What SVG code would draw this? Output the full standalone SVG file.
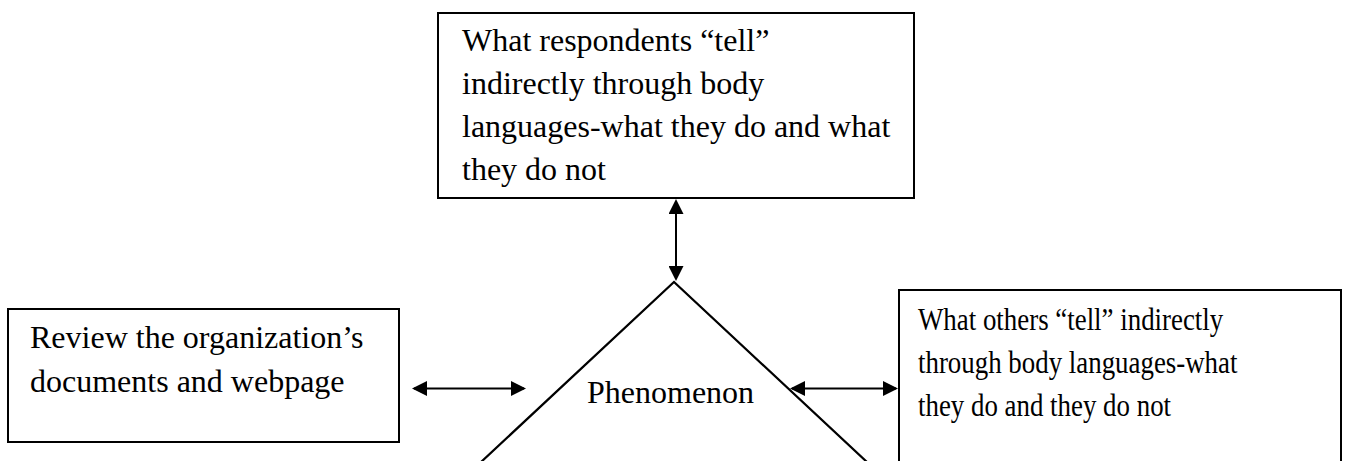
<svg xmlns="http://www.w3.org/2000/svg" width="1350" height="461" viewBox="0 0 1350 461">
  <style>
    .box { fill: #ffffff; stroke: #000000; stroke-width: 2; }
    .label { font-family: "Liberation Serif", "Times New Roman", serif; font-size: 32px; fill: #000000; }
    .edge { stroke: #000000; stroke-width: 2; fill: none; }
    .shape { stroke: #000000; stroke-width: 2.2; fill: none; }
  </style>
  <defs>
    <marker id="head" viewBox="0 0 15 15" refX="13" refY="7.5" markerWidth="15" markerHeight="15" markerUnits="userSpaceOnUse" orient="auto-start-reverse">
      <path d="M0,0 L15,7.5 L0,15 Z" fill="#000000"/>
    </marker>
  </defs>
  <rect width="1350" height="461" fill="#ffffff"/>

  <!-- respondents' body language -->
  <g id="node-respondents">
    <rect class="box" x="438" y="13" width="476" height="185"/>
    <text class="label" x="462" y="51">What respondents “tell”</text>
    <text class="label" x="462" y="94">indirectly through body</text>
    <text class="label" x="462" y="137">languages-what they do and what</text>
    <text class="label" x="462" y="180">they do not</text>
  </g>

  <!-- documents review -->
  <g id="node-documents">
    <rect class="box" x="8" y="309" width="391" height="133"/>
    <text class="label" x="30" y="348">Review the organization’s</text>
    <text class="label" x="30" y="392">documents and webpage</text>
  </g>

  <!-- others' body language (narrower set text) -->
  <g id="node-others">
    <rect class="box" x="899" y="290" width="442" height="200"/>
    <g transform="translate(918,0) scale(0.84,1)">
      <text class="label" x="0" y="330">What others “tell” indirectly</text>
      <text class="label" x="0" y="373">through body languages-what</text>
      <text class="label" x="0" y="416">they do and they do not</text>
    </g>
  </g>

  <!-- phenomenon: open triangle cut by the bottom edge -->
  <g id="node-phenomenon">
    <polyline class="shape" points="480,463 674,282 868,463"/>
    <text class="label" x="587" y="403">Phenomenon</text>
  </g>

  <!-- two-way connectors -->
  <g id="connectors">
    <line class="edge" x1="676" y1="201" x2="676" y2="279" marker-start="url(#head)" marker-end="url(#head)"/>
    <line class="edge" x1="414" y1="388.5" x2="524" y2="388.5" marker-start="url(#head)" marker-end="url(#head)"/>
    <line class="edge" x1="792" y1="388.5" x2="896" y2="388.5" marker-start="url(#head)" marker-end="url(#head)"/>
  </g>
</svg>
